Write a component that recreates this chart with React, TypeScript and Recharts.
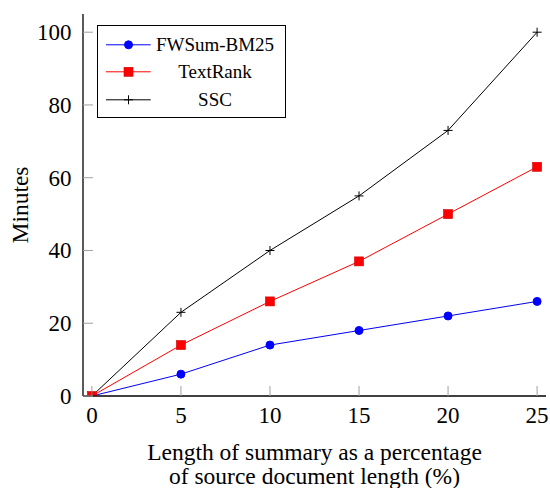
import React from 'react';
import { LineChart, Line, XAxis, YAxis, Legend } from 'recharts';

const lengths = [0, 5, 10, 15, 20, 25];
const fwsum = [0, 6, 14, 18, 22, 26];
const textrank = [0, 14, 26, 37, 50, 63];
const ssc = [0, 23, 40, 55, 73, 100];
const xTicks = [0, 5, 10, 15, 20, 25];
const yTicks = [0, 20, 40, 60, 80, 100];
const seriesNames = ['FWSum-BM25', 'TextRank', 'SSC'];
const seriesColors = ['#0000ff', '#ff0000', '#000000'];

const data = lengths.map((x, i) => ({ x, fwsum: fwsum[i], textrank: textrank[i], ssc: ssc[i] }));

const FONT = '"Liberation Serif", "Times New Roman", Times, serif';
const TICK_LEN = 10;
const TICK_COLOR = '#a0a0a0';

const Circle = (p: any) => {
  const { cx, cy, index } = p;
  if (cx == null || cy == null) return <g key={`c${index}`} />;
  return <circle key={`c${index}`} cx={cx} cy={cy} r={4} fill="#0000ff" stroke="#0000ff" />;
};
const Square = (p: any) => {
  const { cx, cy, index } = p;
  if (cx == null || cy == null) return <g key={`s${index}`} />;
  return <rect key={`s${index}`} x={cx - 4.5} y={cy - 4.5} width={9} height={9} fill="#ff0000" stroke="#d00000" strokeWidth={0.6} />;
};
const Plus = (p: any) => {
  const { cx, cy, index } = p;
  if (cx == null || cy == null) return <g key={`p${index}`} />;
  return (
    <g key={`p${index}`}>
      <line x1={cx - 4.5} y1={cy} x2={cx + 4.5} y2={cy} stroke="#000" strokeWidth={1} />
      <line x1={cx} y1={cy - 4.5} x2={cx} y2={cy + 4.5} stroke="#000" strokeWidth={1} />
    </g>
  );
};

const textStyle = { fontFamily: FONT };

const BottomTick = (p: any) => {
  const { x, y, payload } = p;
  return (
    <g>
      <line x1={x} y1={y} x2={x} y2={y - TICK_LEN} stroke={TICK_COLOR} strokeWidth={1} />
      <text x={x} y={y + 27} textAnchor="middle" style={textStyle} fontSize={23} fill="#000">{payload.value}</text>
    </g>
  );
};
const TopTick = (p: any) => {
  const { x, y } = p;
  return <line x1={x} y1={y} x2={x} y2={y + TICK_LEN} stroke={TICK_COLOR} strokeWidth={1} />;
};
const LeftTick = (p: any) => {
  const { x, y, payload } = p;
  return (
    <g>
      <line x1={x} y1={y} x2={x + TICK_LEN} y2={y} stroke={TICK_COLOR} strokeWidth={1} />
      <text x={x - 11.5} y={y + 7.8} textAnchor="end" style={textStyle} fontSize={23} fill="#000">{payload.value}</text>
    </g>
  );
};
const RightTick = (p: any) => {
  const { x, y } = p;
  return <line x1={x} y1={y} x2={x - TICK_LEN} y2={y} stroke={TICK_COLOR} strokeWidth={1} />;
};

const XTitle = (p: any) => {
  const vb = p.viewBox || { x: 83, y: 396, width: 463 };
  const cx = vb.x + vb.width / 2;
  return (
    <g>
      <text x={cx} y={vb.y + 64} textAnchor="middle" style={textStyle} fontSize={23.5} fill="#000">Length of summary as a percentage</text>
      <text x={cx} y={vb.y + 88} textAnchor="middle" style={textStyle} fontSize={23.5} fill="#000">of source document length (%)</text>
    </g>
  );
};
const YTitle = (p: any) => {
  const vb = p.viewBox || { x: 0, y: 14, width: 83, height: 382 };
  const cy = vb.y + vb.height / 2;
  const x = 28;
  return (
    <text x={x} y={cy} textAnchor="middle" transform={`rotate(-90, ${x}, ${cy})`} style={textStyle} fontSize={23.5} fill="#000">Minutes</text>
  );
};

const markerFor = (i: number, cx: number, cy: number) => {
  if (i === 0) return <circle cx={cx} cy={cy} r={4} fill="#0000ff" stroke="#0000ff" />;
  if (i === 1) return <rect x={cx - 4.5} y={cy - 4.5} width={9} height={9} fill="#ff0000" stroke="#d00000" strokeWidth={0.6} />;
  return (
    <g>
      <line x1={cx - 4.5} y1={cy} x2={cx + 4.5} y2={cy} stroke="#000" />
      <line x1={cx} y1={cy - 4.5} x2={cx} y2={cy + 4.5} stroke="#000" />
    </g>
  );
};

const LegendBox = () => {
  const rowH = 27.6;
  return (
    <div style={{ width: 189, height: 93, border: '1.2px solid #000', background: '#fff', boxSizing: 'border-box', position: 'relative', fontFamily: FONT, fontSize: 19, color: '#000' }}>
      {seriesNames.map((name, i) => {
        const top = 5.5 + i * rowH - 1;
        return (
          <div key={name} style={{ position: 'absolute', left: 0, top, width: 187, height: rowH }}>
            <svg width={60} height={rowH} style={{ position: 'absolute', left: 0, top: 0 }}>
              <line x1={8} y1={rowH / 2} x2={52.7} y2={rowH / 2} stroke={seriesColors[i]} strokeWidth={1} />
              {markerFor(i, 30.5, rowH / 2)}
            </svg>
            <div style={{ position: 'absolute', left: 57, width: 120, top: 0, height: rowH, lineHeight: `${rowH}px`, textAlign: 'center', whiteSpace: 'nowrap' }}>{name}</div>
          </div>
        );
      })}
    </div>
  );
};

export default function App() {
  return (
    <div style={{ position: 'absolute', left: 0, top: 0, width: 550, height: 488, background: '#fff' }}>
      <LineChart width={550} height={488} data={data} margin={{ top: 14, right: 4, left: 0, bottom: 0 }}>
        <XAxis dataKey="x" type="number" domain={[-0.5, 25.5]} ticks={xTicks} interval={0} allowDataOverflow height={92}
          tickSize={0} tickMargin={0} tickLine={false} axisLine={{ stroke: '#000', strokeWidth: 1.3 }} tick={<BottomTick />} label={<XTitle />} />
        <XAxis xAxisId="top" orientation="top" dataKey="x" type="number" domain={[-0.5, 25.5]} ticks={xTicks} interval={0} allowDataOverflow height={0}
          tickSize={0} tickMargin={0} tickLine={false} axisLine={{ stroke: '#000', strokeWidth: 1.3 }} tick={<TopTick />} />
        <YAxis type="number" domain={[0, 105]} ticks={yTicks} interval={0} allowDataOverflow width={83}
          tickSize={0} tickMargin={0} tickLine={false} axisLine={{ stroke: '#000', strokeWidth: 1.3 }} tick={<LeftTick />} label={<YTitle />} />
        <YAxis yAxisId="right" orientation="right" dataKey="ssc" type="number" domain={[0, 105]} ticks={yTicks} interval={0} allowDataOverflow width={0}
          tickSize={0} tickMargin={0} tickLine={false} axisLine={{ stroke: '#000', strokeWidth: 1.3 }} tick={<RightTick />} />
        <Legend layout="horizontal" verticalAlign="middle" align="center"
          wrapperStyle={{ position: 'absolute', left: 97, top: 25, width: 'auto', height: 'auto' }}
          content={() => <LegendBox />} />
        <Line dataKey="fwsum" name={seriesNames[0]} stroke={seriesColors[0]} strokeWidth={1} dot={Circle} isAnimationActive={false} />
        <Line dataKey="textrank" name={seriesNames[1]} stroke={seriesColors[1]} strokeWidth={1} dot={Square} isAnimationActive={false} />
        <Line dataKey="ssc" name={seriesNames[2]} stroke={seriesColors[2]} strokeWidth={1} dot={Plus} isAnimationActive={false} />
      </LineChart>
    </div>
  );
}
